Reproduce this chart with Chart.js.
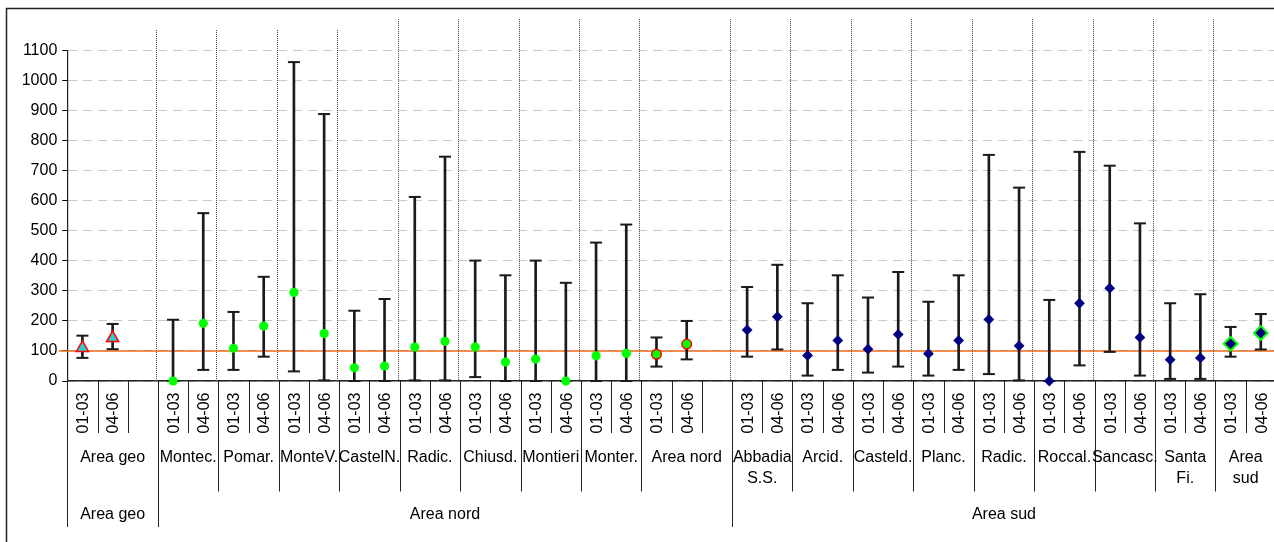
<!DOCTYPE html>
<html>
<head>
<meta charset="utf-8">
<script src="https://cdn.jsdelivr.net/npm/chart.js@4.4.1/dist/chart.umd.min.js"></script>
<style>
  html, body { margin: 0; padding: 0; background: #fff; overflow: hidden; }
  #wrap { width: 1274px; height: 542px; overflow: hidden; position: relative; }
  canvas { display: block; }
</style>
</head>
<body>
<div id="wrap"><canvas id="chart" width="1282" height="542"></canvas></div>
<script>
// Period of each column (blank columns are spacers)
const periodLabels = [
  '01-03', '04-06', '',
  '01-03', '04-06', '01-03', '04-06', '01-03', '04-06', '01-03', '04-06',
  '01-03', '04-06', '01-03', '04-06', '01-03', '04-06', '01-03', '04-06',
  '01-03', '04-06', '',
  '01-03', '04-06', '01-03', '04-06', '01-03', '04-06', '01-03', '04-06',
  '01-03', '04-06', '01-03', '04-06', '01-03', '04-06', '01-03', '04-06',
  '01-03', '04-06'
];

// Municipalities / aggregates and the number of columns each one spans
const groupNames = [
  ['Area geo'], ['Montec.'], ['Pomar.'], ['MonteV.'], ['CastelN.'], ['Radic.'],
  ['Chiusd.'], ['Montieri'], ['Monter.'], ['Area nord'],
  ['Abbadia', 'S.S.'], ['Arcid.'], ['Casteld.'], ['Planc.'], ['Radic.'],
  ['Roccal.'], ['Sancasc.'], ['Santa', 'Fi.'], ['Area', 'sud']
];
const groupSizes = [3, 2, 2, 2, 2, 2, 2, 2, 2, 3, 2, 2, 2, 2, 2, 2, 2, 2, 2];

// Areas and the number of groups each one spans
const areaNames = ['Area geo', 'Area nord', 'Area sud'];
const areaSizes = [1, 9, 9];

// Central value, lower and upper limit for every column
const meanValues = [
  110, 143, null,
  0, 192, 109, 183, 295, 158, 44, 50, 113, 132, 113, 63, 73, 0, 84, 92,
  89, 123, null,
  170, 214, 85, 135, 106, 155, 91, 135, 205, 117, 0, 259, 309, 145, 71, 77,
  124, 160
];
const lowValues = [
  77, 106, null,
  0, 37, 37, 81, 32, 2, 0, 0, 2, 2, 13, 0, 0, 0, 0, 0,
  48, 72, null,
  81, 105, 18, 37, 28, 48, 18, 37, 23, 2, 0, 52, 97, 18, 7, 7,
  81, 105
];
const highValues = [
  151, 190, null,
  204, 559, 230, 347, 1062, 889, 234, 273, 613, 747, 401, 352, 401, 327, 461, 521,
  145, 200, null,
  313, 387, 259, 352, 278, 363, 264, 352, 753, 644, 270, 763, 717, 525, 259, 289,
  180, 223
];

// Reference level
const LIMIT = 100;

// Upper end (axis units) of the dotted divider at the start of each group
const dividerTops = [null, 1169, 1169, 1169, 1169, 1205, 1205, 1205, 1205, 1205,
  1205, 1205, 1205, 1205, 1205, 1205, 1205, 1205, 1205];

// Y axis
const Y_MIN = 0, Y_MAX = 1100, Y_STEP = 100;

// ---------------------------------------------------------------------------
const FONT = '"Liberation Sans", Arial, sans-serif';

const slotGroup = [];
const groupStart = [];
groupSizes.forEach((n, g) => {
  groupStart.push(slotGroup.length);
  for (let i = 0; i < n; i++) slotGroup.push(g);
});
const groupEnd = groupSizes.map((n, g) => groupStart[g] + n);
const areaGroupStart = [];
{
  let g = 0;
  areaSizes.forEach(n => { areaGroupStart.push(g); g += n; });
}

const pick = groups => meanValues.map((v, i) => groups.includes(slotGroup[i]) ? v : null);
const range = (a, b) => Array.from({ length: b - a + 1 }, (_, i) => a + i);

const markerBase = { type: 'line', showLine: false, clip: false, order: 1 };

const datasets = [
  {
    type: 'bar',
    data: lowValues.map((l, i) => l == null ? null : [l, highValues[i]]),
    backgroundColor: '#1a1a1a',
    barThickness: 2,
    grouped: false,
    order: 4
  },
  {
    type: 'line', showLine: false, clip: false, order: 3,
    data: highValues,
    pointStyle: 'line', pointRadius: 6, pointBorderWidth: 2, pointBorderColor: '#1a1a1a'
  },
  {
    type: 'line', showLine: false, clip: false, order: 3,
    data: lowValues,
    pointStyle: 'line', pointRadius: 6, pointBorderWidth: 2, pointBorderColor: '#1a1a1a'
  },
  Object.assign({}, markerBase, {
    data: pick([0]),
    pointStyle: 'triangle', pointRadius: 7,
    pointBackgroundColor: '#33CCCC', pointBorderColor: '#FF0000', pointBorderWidth: 1.5
  }),
  Object.assign({}, markerBase, {
    data: pick(range(1, 8)),
    pointStyle: 'circle', pointRadius: 4.6,
    pointBackgroundColor: '#00FF00', pointBorderColor: '#00FF00', pointBorderWidth: 0
  }),
  Object.assign({}, markerBase, {
    data: pick([9]),
    pointStyle: 'circle', pointRadius: 4.8,
    pointBackgroundColor: '#00FF00', pointBorderColor: '#FF0000', pointBorderWidth: 1.5
  }),
  Object.assign({}, markerBase, {
    data: pick(range(10, 17)),
    pointStyle: 'rectRot', pointRadius: 5.4,
    pointBackgroundColor: '#000080', pointBorderColor: '#000080', pointBorderWidth: 0
  }),
  Object.assign({}, markerBase, {
    data: pick([18]),
    pointStyle: 'rectRot', pointRadius: 6.8,
    pointBackgroundColor: '#000080', pointBorderColor: '#00FF00', pointBorderWidth: 2
  })
];

const decor = {
  id: 'decor',
  beforeDatasetsDraw(chart) {
    const { ctx, chartArea } = chart;
    const x = chart.scales.x, y = chart.scales.y;
    ctx.save();
    // dotted dividers between groups
    ctx.strokeStyle = '#444';
    ctx.lineWidth = 1;
    ctx.setLineDash([1, 1]);
    groupStart.forEach((s, g) => {
      if (g === 0) return;
      const px = Math.round(x.getPixelForValue(s - 0.5)) - 1.5;
      ctx.beginPath();
      ctx.moveTo(px, y.getPixelForValue(dividerTops[g]));
      ctx.lineTo(px, chartArea.bottom);
      ctx.stroke();
    });
    // reference level
    ctx.setLineDash([]);
    ctx.strokeStyle = '#F26B1D';
    ctx.lineWidth = 1.6;
    const ly = y.getPixelForValue(LIMIT);
    ctx.beginPath();
    ctx.moveTo(chartArea.left - 8.5, ly);
    ctx.lineTo(chart.width, ly);
    ctx.stroke();
    ctx.restore();
  },
  afterDraw(chart) {
    const { ctx, chartArea } = chart;
    const x = chart.scales.x;
    const edge = b => x.getPixelForValue(b - 0.5);
    const top = chartArea.bottom;
    const ROW1 = 433, ROW2 = 491.5, ROW3 = 527;

    ctx.save();
    // category dividers below the axis
    const depth = new Array(periodLabels.length + 1).fill(ROW1);
    groupStart.forEach(s => { depth[s] = ROW2; });
    areaGroupStart.forEach(g => { depth[groupStart[g]] = ROW3; });
    depth[periodLabels.length] = ROW3;
    ctx.strokeStyle = '#222';
    ctx.lineWidth = 1;
    depth.forEach((d, b) => {
      const px = Math.round(edge(b)) + 0.5;
      ctx.beginPath();
      ctx.moveTo(px, top);
      ctx.lineTo(px, d);
      ctx.stroke();
    });

    ctx.fillStyle = '#000';
    ctx.font = '16px ' + FONT;

    // period labels, rotated
    periodLabels.forEach((lab, i) => {
      if (!lab) return;
      const cx = x.getPixelForValue(i);
      ctx.save();
      ctx.translate(cx + 5.8, 392.5);
      ctx.rotate(-Math.PI / 2);
      ctx.textAlign = 'right';
      ctx.textBaseline = 'alphabetic';
      ctx.fillText(lab, 0, 0);
      ctx.restore();
    });

    // group names
    ctx.textAlign = 'center';
    ctx.textBaseline = 'alphabetic';
    groupNames.forEach((lines, g) => {
      const cx = (edge(groupStart[g]) + edge(groupEnd[g])) / 2;
      lines.forEach((t, j) => ctx.fillText(t, cx, 462 + j * 20.5));
    });

    // area names
    areaNames.forEach((name, a) => {
      const g0 = areaGroupStart[a];
      const g1 = g0 + areaSizes[a] - 1;
      const cx = (edge(groupStart[g0]) + edge(groupEnd[g1])) / 2;
      ctx.fillText(name, cx, 519);
    });

    // outer frame
    ctx.strokeStyle = '#222';
    ctx.lineWidth = 1.5;
    ctx.strokeRect(6.5, 8.5, 4000, 4000);
    ctx.restore();
  }
};

new Chart(document.getElementById('chart'), {
  type: 'bar',
  data: { labels: periodLabels, datasets },
  plugins: [decor],
  options: {
    responsive: false,
    animation: false,
    events: [],
    layout: { autoPadding: false, padding: { top: 50.7, right: 6.1, bottom: 0, left: 0 } },
    plugins: { legend: { display: false }, tooltip: { enabled: false } },
    scales: {
      x: {
        type: 'category',
        offset: true,
        grid: { display: false },
        ticks: { display: false },
        border: { display: true, color: '#222', width: 1.5 },
        afterFit: s => { s.height = 161; }
      },
      y: {
        min: Y_MIN,
        max: Y_MAX,
        ticks: {
          stepSize: Y_STEP,
          color: '#000',
          padding: 5,
          font: { family: FONT, size: 16 },
          callback: v => String(v)
        },
        grid: {
          color: '#C8C8C8',
          lineWidth: 1,
          tickLength: 5,
          tickColor: '#000',
          tickWidth: 1,
          tickBorderDash: []
        },
        border: { display: true, color: '#222', width: 1.2, dash: [9, 6] },
        afterFit: s => { s.width = 67.3; }
      }
    }
  }
});
</script>
</body>
</html>
